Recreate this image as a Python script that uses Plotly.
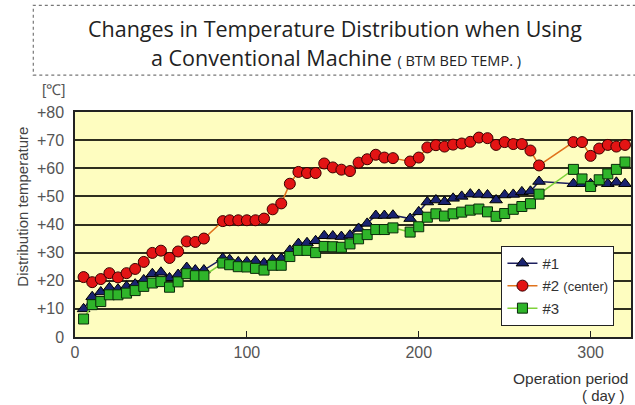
import plotly.graph_objects as go

# ---- data ----
days = [5, 10, 15, 20, 25, 30, 35, 40, 45, 50, 55, 60, 65, 70, 75,
        86,
        90, 95, 100, 105, 110, 115, 120, 125, 130, 135, 140, 145, 150, 155, 160, 165, 170, 175, 180, 185,
        195, 200, 205, 210, 215, 220, 225, 230, 235, 240, 245, 250, 255, 260, 265, 270,
        290, 295, 300, 305, 310, 315, 320]

s1 = [10, 14.3, 16, 17.5, 17, 18, 18.8, 20.3, 22.5, 23, 21, 22.2, 24.7, 23.8, 23.8,
      28,
      27.5, 26.7, 26.7, 27, 26.3, 27.5, 27.9, 30.8, 33.2, 33.5, 34.2, 36, 35.9, 35.7, 36.2, 38.6, 40.4, 43.2, 43.2, 43.3,
      42.1, 44.5, 48, 48.7, 48.1, 49.3, 50, 50.8, 50.7, 50.5, 48.7, 50.5, 50.7, 51.6, 51.8, 55.3,
      54.5, 54.5, 54.5, 55, 54.5, 55, 54.5]

s2 = [21.3, 19.5, 20.6, 22.7, 21.2, 22.7, 24.2, 26.7, 29.9, 30.7, 28.1, 30.4, 34, 33.8, 35,
      41.2,
      41.5, 41.5, 41.5, 41.5, 42.1, 45.4, 47.5, 54.5, 58.7, 58.3, 58.3, 61.7, 60.3, 59.5, 59, 62, 63.2, 64.8, 63.8, 63.6,
      62.4, 63.8, 67.4, 68.2, 67.7, 68.4, 68.8, 69.4, 70.9, 70.7, 68.3, 69.3, 68.6, 68.6, 66.3, 61,
      69.3, 69.3, 64.4, 67, 68.3, 67.7, 68.3]

s3 = [6.4, 11.5, 12.6, 15, 15, 15.6, 16.5, 18, 19.2, 19.7, 17.7, 19.6, 22.5, 21.8, 21.8,
      26.3,
      25.7, 25, 24.9, 24.4, 23.8, 25.5, 25.5, 28.6, 30.8, 30.8, 30, 32.2, 32.1, 31.9, 33.1, 34.9, 36.4, 38.2, 38.2, 38.8,
      37.3, 39.2, 42.6, 43.8, 43, 43.8, 44.4, 45.1, 45.5, 44.5, 42.9, 43.9, 45.4, 46.4, 47.4, 50.8,
      59.6, 56.2, 53.5, 55.9, 58, 59.6, 62.2]

series_names = ["#1", "#2 <span style='font-size:13px'>(center)</span>", "#3"]
y_tickvals = [0, 10, 20, 30, 40, 50, 60, 70, 80]
y_ticktext = ["0", "+10", "+20", "+30", "+40", "+50", "+60", "+70", "+80"]
x_tickvals = [0, 100, 200, 300]
x_ticktext = ["0", "100", "200", "300"]

title_line1 = "Changes in Temperature Distribution when Using"
title_line2 = "a Conventional Machine"
title_sub = "( BTM BED TEMP. )"

narrow = "Liberation Sans Narrow, Arial Narrow, Liberation Sans, sans-serif"
tick_font = dict(family=narrow, size=16, color="#555")

fig = go.Figure()
fig.add_trace(go.Scatter(
    x=days, y=s1, name=series_names[0], mode="lines+markers",
    line=dict(color="#1c1f5e", width=1.5),
    marker=dict(symbol="triangle-up", size=11, color="#1a2370", line=dict(color="#000", width=1)),
))
fig.add_trace(go.Scatter(
    x=days, y=s2, name=series_names[1], mode="lines+markers",
    line=dict(color="#e0731c", width=1.5),
    marker=dict(symbol="circle", size=11, color="#e31414", line=dict(color="#3a0000", width=1)),
))
fig.add_trace(go.Scatter(
    x=days, y=s3, name=series_names[2], mode="lines+markers",
    line=dict(color="#7fd23a", width=1.5),
    marker=dict(symbol="square", size=10, color="#2fb52a", line=dict(color="#0a2a0a", width=1)),
))

fig.update_layout(
    width=635, height=405,
    margin=dict(l=75, r=2, t=112, b=68),
    paper_bgcolor="white",
    plot_bgcolor="#fefdc0",
    showlegend=True,
    legend=dict(
        x=0.767, y=0.405, xanchor="left", yanchor="top",
        bgcolor="white", bordercolor="#222", borderwidth=1,
        font=dict(family=narrow, size=15, color="#333"),
        itemwidth=30, tracegroupgap=0,
    ),
    font=dict(family="Liberation Sans, sans-serif", color="#333"),
)

fig.update_xaxes(
    range=[0, 323.5], tickvals=x_tickvals, ticktext=x_ticktext,
    ticks="inside", ticklen=6, tickcolor="#222", tickwidth=1,
    showgrid=False, zeroline=False,
    showline=True, linecolor="#222", linewidth=1.5, mirror=True,
    tickfont=tick_font, ticklabelstandoff=0,
)
fig.update_yaxes(
    range=[0, 80], tickvals=y_tickvals, ticktext=y_ticktext,
    ticks="", showgrid=True, gridcolor="#2e2e1e", gridwidth=1.5,
    zeroline=False,
    showline=True, linecolor="#222", linewidth=1.5, mirror=True,
    tickfont=tick_font, ticklabelstandoff=6,
)

# title box
fig.add_shape(type="rect", xref="paper", yref="paper",
              x0=-0.075, x1=1.03, y0=1.164, y1=1.474,
              line=dict(color="#777", width=1.2, dash="dot"), fillcolor="white", layer="below")
fig.add_annotation(xref="paper", yref="paper", x=0.467, y=1.373, text=title_line1,
                   showarrow=False, font=dict(family="Open Sans, sans-serif", size=21.5, color="#222"),
                   xanchor="center", yanchor="middle")
fig.add_annotation(xref="paper", yref="paper", x=0.470, y=1.244,
                   text=title_line2 + " <span style='font-size:14.5px'>" + title_sub + "</span>",
                   showarrow=False, font=dict(family="Open Sans, sans-serif", size=21.5, color="#222"),
                   xanchor="center", yanchor="middle")

# unit label
fig.add_annotation(xref="paper", yref="paper", x=-0.038, y=1.10, text="[℃]",
                   showarrow=False, font=dict(family=narrow, size=15, color="#555"),
                   xanchor="center", yanchor="middle")
# y axis title
fig.add_annotation(xref="paper", yref="paper", x=-0.095, y=0.58, text="Distribution temperature",
                   textangle=-90, showarrow=False,
                   font=dict(family="Liberation Sans, sans-serif", size=15, color="#444"),
                   xanchor="center", yanchor="middle")
# x axis title
fig.add_annotation(xref="paper", yref="paper", x=0.998, y=-0.185, text="Operation period",
                   showarrow=False,
                   font=dict(family="Liberation Sans, sans-serif", size=15.5, color="#333"),
                   xanchor="right", yanchor="middle")
fig.add_annotation(xref="paper", yref="paper", x=0.993, y=-0.262, text="( day )",
                   showarrow=False,
                   font=dict(family="Liberation Sans, sans-serif", size=15, color="#333"),
                   xanchor="right", yanchor="middle")

fig.write_html("out.html", config={"displayModeBar": False},
               post_script="document.body.style.margin='0';")
